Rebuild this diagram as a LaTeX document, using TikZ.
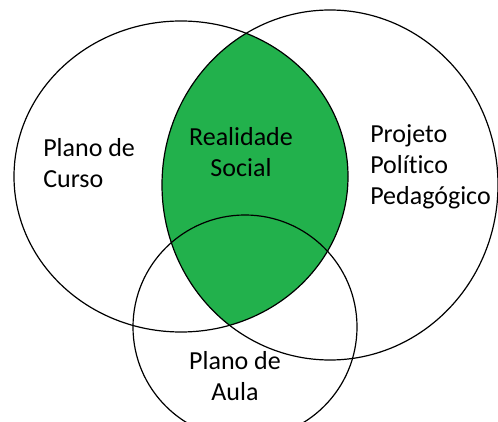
\documentclass[tikz,border=0pt]{standalone}
\usepackage{fontspec}
\setmainfont{Carlito}[Ligatures=CommonOff]
\definecolor{lensgreen}{RGB}{34,177,76}

\tikzset{
    venn/.style={draw=black, line width=0.9pt},
    vennlabel/.style={inner sep=0pt, font=\fontsize{19.5pt}{23.25pt}\selectfont}
}

\begin{document}
\begin{tikzpicture}[x=0.75pt, y=0.75pt]
    \clip (0, 0) rectangle (498, 421);
    % lens between the two large ellipses
    \begin{scope}
        \clip (181, 244.5) ellipse [x radius=167, y radius=155.5];
        \fill[lensgreen] (330, 236) ellipse [x radius=168, y radius=175];
    \end{scope}
    \draw[venn] (181, 244.5) ellipse [x radius=167, y radius=155.5];
    \draw[venn] (330, 236) ellipse [x radius=168, y radius=175];
    \draw[venn] (245, 94) ellipse [x radius=112, y radius=112];

    % base anchor sits on the last line
    \node[vennlabel, anchor=base west, align=left] (curso) at (43, 233) {Plano de\\Curso};
    \node[vennlabel, anchor=base, align=center] (social) at (241, 244) {Realidade\\Social};
    \node[vennlabel, anchor=base west, align=left] (ppp) at (370, 216) {Projeto\\Político\\Pedagógico};
    \node[vennlabel, anchor=base, align=center] (aula) at (235, 21) {Plano de\\Aula};
\end{tikzpicture}
\end{document}
